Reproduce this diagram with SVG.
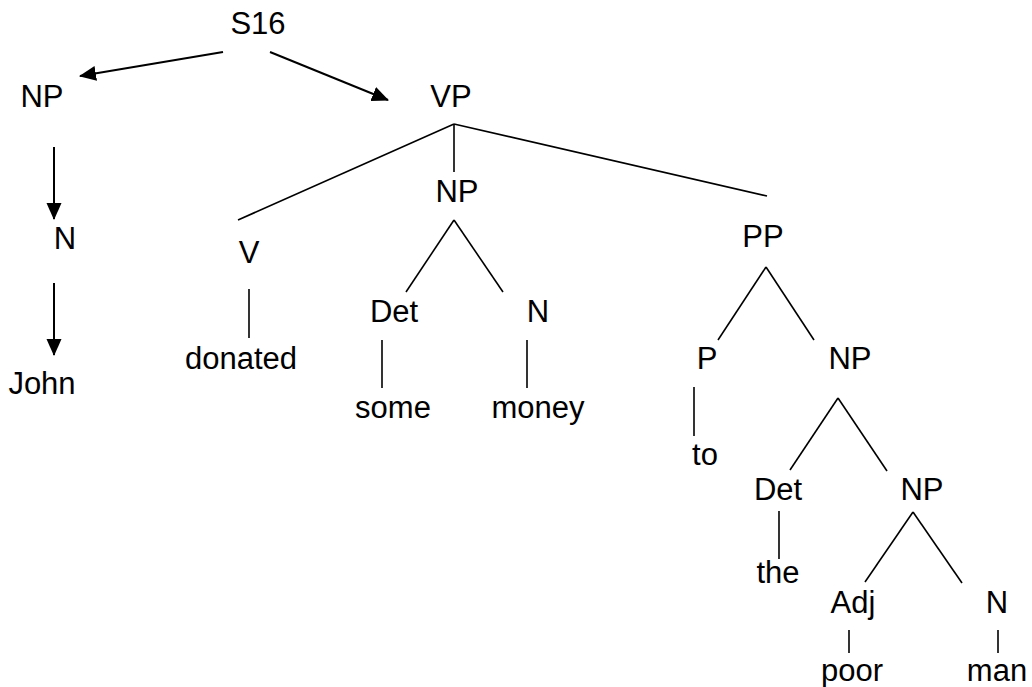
<svg xmlns="http://www.w3.org/2000/svg" width="1032" height="687" viewBox="0 0 1032 687">
<style>
text{font-family:"Liberation Sans",Arial,sans-serif;font-size:31px;fill:#000;text-anchor:middle}
.arrow{stroke:#000;stroke-width:2;fill:none;marker-end:url(#ah)}
.edge{stroke:#000;stroke-width:1.6;fill:none}
</style>
<defs>
<marker id="ah" markerUnits="userSpaceOnUse" markerWidth="17" markerHeight="16" refX="16" refY="7.5" orient="auto">
<path d="M0,0 L17,7.5 L0,15 z" fill="#000"/>
</marker>
</defs>
<rect width="1032" height="687" fill="#fff"/>
<g id="connectors">
<line class="arrow" x1="223" y1="52" x2="80" y2="76"/>
<line class="arrow" x1="270" y1="52" x2="388" y2="100"/>
<line class="arrow" x1="54" y1="147" x2="54" y2="219"/>
<line class="arrow" x1="54" y1="283" x2="54" y2="355"/>
<line class="edge" x1="454" y1="124" x2="238" y2="220"/>
<line class="edge" x1="454" y1="124" x2="454" y2="172"/>
<line class="edge" x1="454" y1="124" x2="767" y2="196"/>
<line class="edge" x1="249" y1="289" x2="249" y2="338"/>
<line class="edge" x1="454" y1="220" x2="406" y2="292"/>
<line class="edge" x1="454" y1="220" x2="503" y2="292"/>
<line class="edge" x1="382" y1="340" x2="382" y2="388"/>
<line class="edge" x1="527" y1="340" x2="527" y2="388"/>
<line class="edge" x1="766" y1="267" x2="718" y2="340"/>
<line class="edge" x1="766" y1="267" x2="814" y2="340"/>
<line class="edge" x1="694" y1="387" x2="694" y2="436"/>
<line class="edge" x1="838" y1="398" x2="790" y2="470"/>
<line class="edge" x1="838" y1="398" x2="887" y2="471"/>
<line class="edge" x1="779" y1="511" x2="779" y2="559"/>
<line class="edge" x1="913" y1="512" x2="865" y2="582"/>
<line class="edge" x1="913" y1="512" x2="962" y2="583"/>
<line class="edge" x1="849" y1="630" x2="849" y2="653"/>
<line class="edge" x1="998" y1="630" x2="998" y2="653"/>
</g>
<g id="n-S16"><text x="258" y="34">S16</text></g>
<g id="n-NP1"><text x="42" y="107">NP</text></g>
<g id="n-VP"><text x="451" y="107">VP</text></g>
<g id="n-N1"><text x="65" y="249">N</text></g>
<g id="n-John"><text x="42" y="394">John</text></g>
<g id="n-V"><text x="249" y="263">V</text></g>
<g id="n-donated"><text x="241" y="369">donated</text></g>
<g id="n-NP2"><text x="457" y="202">NP</text></g>
<g id="n-Det1"><text x="394" y="322">Det</text></g>
<g id="n-some"><text x="393" y="418">some</text></g>
<g id="n-N2"><text x="538" y="322">N</text></g>
<g id="n-money"><text x="538" y="418">money</text></g>
<g id="n-PP"><text x="763" y="247">PP</text></g>
<g id="n-P"><text x="707" y="369">P</text></g>
<g id="n-to"><text x="705" y="465">to</text></g>
<g id="n-NP3"><text x="850" y="369">NP</text></g>
<g id="n-Det2"><text x="778" y="500">Det</text></g>
<g id="n-the"><text x="778" y="583">the</text></g>
<g id="n-NP4"><text x="922" y="500">NP</text></g>
<g id="n-Adj"><text x="853" y="613">Adj</text></g>
<g id="n-poor"><text x="852" y="681">poor</text></g>
<g id="n-N3"><text x="997" y="613">N</text></g>
<g id="n-man"><text x="997" y="681">man</text></g>
</svg>
